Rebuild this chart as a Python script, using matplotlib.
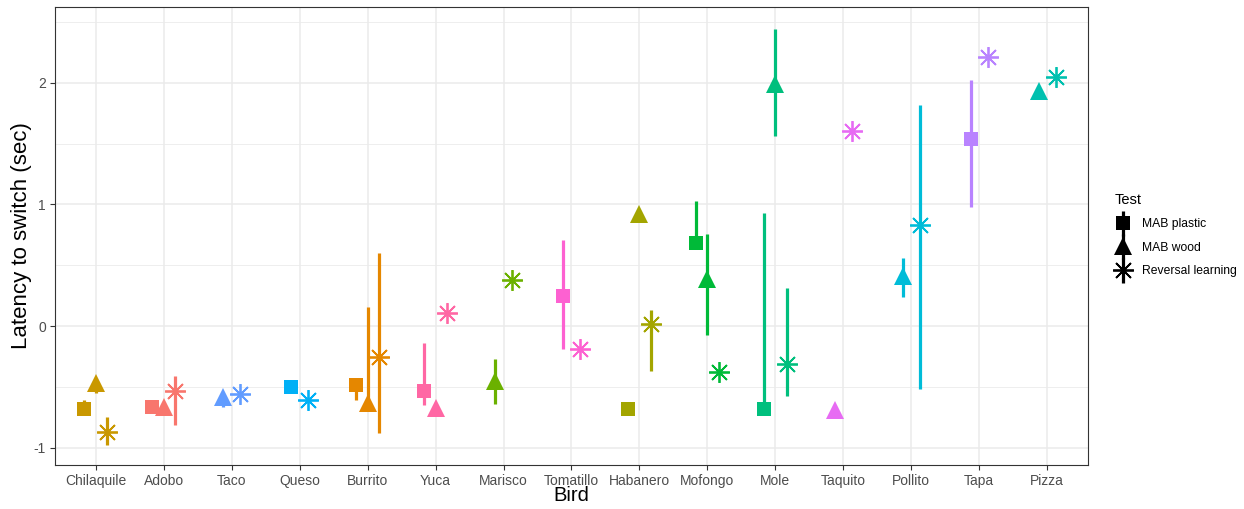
import numpy as np
import matplotlib
matplotlib.use("Agg")
import matplotlib.pyplot as plt
from matplotlib.lines import Line2D
from matplotlib.legend_handler import HandlerTuple

plt.rcParams["font.family"] = ["Liberation Sans", "DejaVu Sans"]
plt.rcParams["axes.unicode_minus"] = False

nan = np.nan

birds = ["Chilaquile", "Adobo", "Taco", "Queso", "Burrito", "Yuca", "Marisco",
         "Tomatillo", "Habanero", "Mofongo", "Mole", "Taquito", "Pollito", "Tapa", "Pizza"]

# MAB plastic
plastic_mean = [-0.68, -0.66, nan, -0.50, -0.48, -0.53, nan, 0.25, -0.68, 0.68, -0.68, nan, nan, 1.54, nan]
plastic_low = [-0.68, nan, nan, nan, -0.61, -0.65, nan, -0.19, nan, 0.68, -0.68, nan, nan, 0.98, nan]
plastic_high = [-0.61, nan, nan, nan, -0.48, -0.14, nan, 0.71, nan, 1.03, 0.93, nan, nan, 2.02, nan]

# MAB wood
wood_mean = [-0.47, -0.66, -0.58, nan, -0.63, -0.67, -0.45, nan, 0.92, 0.39, 1.99, -0.69, 0.41, nan, 1.93]
wood_low = [-0.55, nan, -0.66, nan, -0.66, nan, -0.64, nan, nan, -0.07, 1.56, nan, 0.24, nan, nan]
wood_high = [-0.47, nan, -0.58, nan, 0.16, nan, -0.27, nan, nan, 0.76, 2.44, nan, 0.56, nan, nan]

# Reversal learning
reversal_mean = [-0.87, -0.53, -0.56, -0.61, -0.25, 0.11, 0.38, -0.19, 0.02, -0.38, -0.31, 1.60, 0.83, 2.21, 2.05]
reversal_low = [-0.98, -0.81, nan, nan, -0.88, nan, nan, nan, -0.37, nan, -0.57, nan, -0.52, nan, nan]
reversal_high = [-0.75, -0.41, nan, nan, 0.60, nan, nan, nan, 0.13, nan, 0.31, nan, 1.82, nan, nan]

tests = ["MAB plastic", "MAB wood", "Reversal learning"]

# ggplot hue colours, assigned alphabetically
bird_colors = {
    "Adobo": "#F8766D", "Burrito": "#E58700", "Chilaquile": "#C99800", "Habanero": "#A3A500",
    "Marisco": "#6BB100", "Mofongo": "#00BA38", "Mole": "#00BF7D", "Pizza": "#00C0AF",
    "Pollito": "#00BCD8", "Queso": "#00B0F6", "Taco": "#619CFF", "Tapa": "#B983FF",
    "Taquito": "#E76BF3", "Tomatillo": "#FD61D1", "Yuca": "#FF67A4",
}

markers = {"MAB plastic": ("s", 10.5, 0), "MAB wood": ("^", 12.5, 0),
           "Reversal learning": ((8, 2, 0), 15, 1.3)}

series = {
    "MAB plastic": (plastic_mean, plastic_low, plastic_high),
    "MAB wood": (wood_mean, wood_low, wood_high),
    "Reversal learning": (reversal_mean, reversal_low, reversal_high),
}

fig = plt.figure(figsize=(12.44, 5.09), dpi=100)
ax = fig.add_axes([0.0442, 0.0865, 0.8304, 0.8995])

dodge = 0.5
for i, bird in enumerate(birds):
    present = [t for t in tests if not np.isnan(series[t][0][i])]
    n = len(present)
    for k, t in enumerate(present):
        x = i + 1 + dodge * ((k + 0.5) / n - 0.5)
        m, lo, hi = series[t][0][i], series[t][1][i], series[t][2][i]
        c = bird_colors[bird]
        if not np.isnan(lo):
            ax.plot([x, x], [lo, hi], color=c, lw=2.3, solid_capstyle="butt", zorder=3)
        mk, ms, mew = markers[t]
        ax.plot([x], [m], linestyle="none", marker=mk, markersize=ms, color=c,
                markeredgewidth=mew if mew else 0, markeredgecolor=c, zorder=4)

ax.set_xlim(0.4, 15.6)
ax.set_ylim(-1.14, 2.62)
ax.set_xticks(range(1, 16))
ax.set_xticklabels(birds)
ax.set_yticks([-1, 0, 1, 2])
ax.set_yticks([-0.5, 0.5, 1.5, 2.5], minor=True)
ax.grid(True, which="major", color="#EBEBEB", lw=1.1)
ax.grid(True, which="minor", axis="y", color="#EBEBEB", lw=0.6)
ax.set_axisbelow(True)
for s in ax.spines.values():
    s.set_color("#333333")
    s.set_linewidth(0.8)
ax.tick_params(axis="both", which="major", colors="#333333", labelcolor="#4D4D4D",
               labelsize=10, length=3.5, width=0.8, pad=3)
ax.tick_params(axis="y", which="minor", length=0)
ax.set_xlabel("Bird", fontsize=14.5)
ax.set_ylabel("Latency to switch (sec)", fontsize=16)
ax.xaxis.set_label_coords(0.5, -0.046)
ax.yaxis.set_label_coords(-0.022, 0.5)

handles = []
for t in tests:
    mk, ms, mew = markers[t]
    pt = Line2D([], [], linestyle="none", marker=mk, markersize=ms, color="black",
                markeredgewidth=mew if mew else 0)
    bar = Line2D([], [], linestyle="none", marker="|", markersize=18, markeredgewidth=2.3,
                 color="black")
    handles.append((bar, pt))
leg = fig.legend(handles, tests, handler_map={tuple: HandlerTuple(ndivide=1)},
                 loc="upper left", bbox_to_anchor=(0.887, 0.643), frameon=False,
                 title="Test", fontsize=8.7, title_fontsize=10.5, handlelength=1.4,
                 labelspacing=0.95, alignment="left", handletextpad=0.9)

fig.savefig("out.png", dpi=100)
